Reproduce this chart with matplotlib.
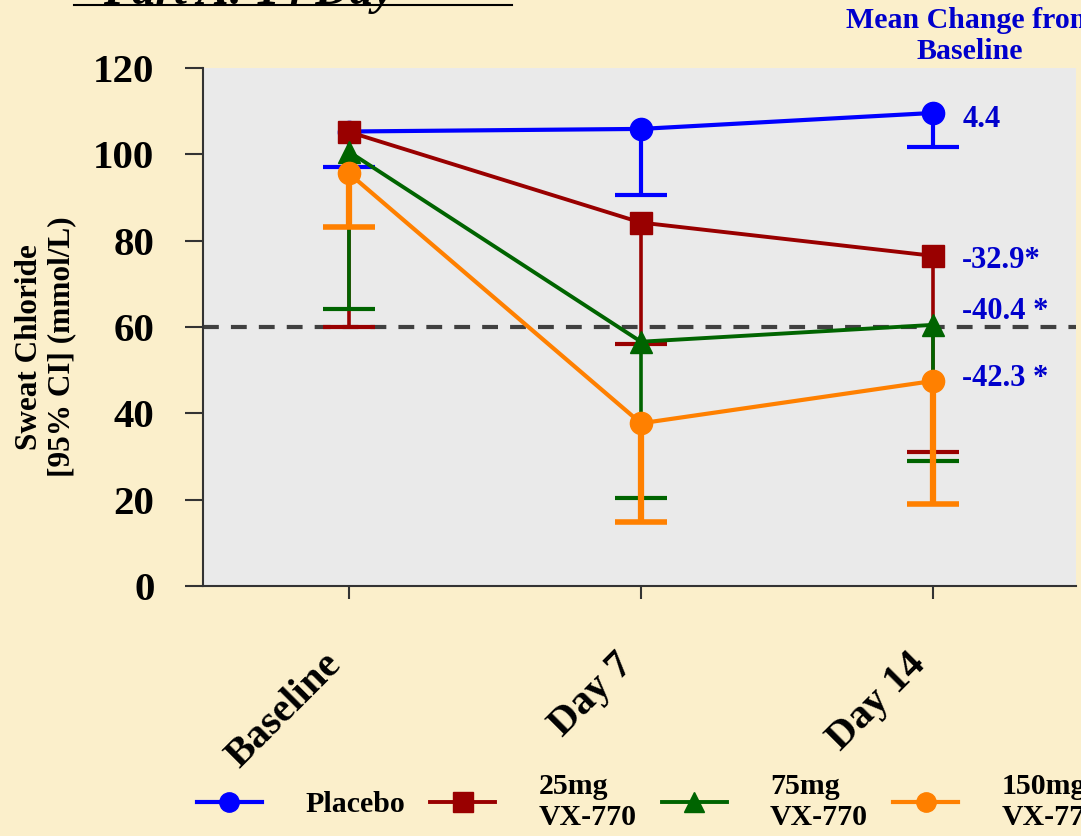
import matplotlib.pyplot as plt
from matplotlib.lines import Line2D
from matplotlib.transforms import ScaledTranslation

# data
visits = ["Baseline", "Day 7", "Day 14"]
x_pos = [1, 2, 3]

groups = ["Placebo", "25mg\nVX-770", "75mg\nVX-770", "150mg\nVX-770"]
means = [
    [105.3, 105.9, 109.6],   # placebo
    [105.2, 84.2, 76.5],     # 25mg
    [100.6, 56.6, 60.5],     # 75mg
    [95.6, 37.7, 47.5],      # 150mg
]
lower_ci = [
    [97.1, 90.7, 101.8],
    [60.1, 56.1, 31.1],
    [64.1, 20.5, 29.0],
    [83.2, 14.9, 19.0],
]
change_labels = ["4.4", "-32.9*", "-40.4 *", "-42.3 *"]
change_y = [108.0, 75.5, 63.5, 48.0]
threshold = 60

colors = ["#0000FF", "#990000", "#006400", "#FF8000"]
markers = ["o", "s", "^", "o"]
line_w = [3.0, 2.8, 2.8, 3.0]
bar_w = [3.0, 2.6, 2.6, 4.5]
cap_w = [3.0, 3.0, 3.0, 4.0]

serif = "Liberation Serif"
txt_blue = "#0000CC"

fig = plt.figure(figsize=(10.81, 8.36), dpi=100)
fig.patch.set_facecolor("#FBEFCB")
ax = fig.add_axes([0.1878, 0.299, 0.8076, 0.6196])
ax.set_facecolor("#EAEAEA")

ax.axhline(threshold, color="#404040", lw=3, linestyle=(0, (3.8, 2.9)), zorder=1)

handles = []
for i in range(len(groups)):
    err_lo = [m - l for m, l in zip(means[i], lower_ci[i])]
    err_hi = [0] * len(means[i])
    cont = ax.errorbar(x_pos, means[i], yerr=[err_lo, err_hi], color=colors[i],
                       marker=markers[i], markersize=16, lw=line_w[i],
                       elinewidth=bar_w[i], capsize=19, capthick=cap_w[i],
                       zorder=3 + i)
    cont[1][1].set_visible(False)   # one-sided bars, no upper cap
    handles.append(cont[0])

for lab, yy in zip(change_labels, change_y):
    ax.text(3.1, yy, lab, color=txt_blue, fontsize=22, fontweight="bold",
            family=serif, ha="left", va="center")

ax.set_xlim(0.5, 3.49)
ax.set_ylim(0, 120)
ax.set_yticks([0, 20, 40, 60, 80, 100, 120])
ax.set_xticks(x_pos)
ax.set_xticklabels(visits, rotation=45, ha="right", va="top")
for lab in ax.get_xticklabels() + ax.get_yticklabels():
    lab.set_fontfamily(serif)
    lab.set_fontweight("bold")
    lab.set_fontsize(29.5)
for lab in ax.get_xticklabels():
    lab.set_transform(lab.get_transform() + ScaledTranslation(-10 / 100, 0, fig.dpi_scale_trans))

ax.tick_params(axis="y", direction="out", length=13, width=1.5, color="#333333", pad=22)
ax.tick_params(axis="x", direction="out", length=9, width=1.5, color="#333333", pad=34)
for side in ["top", "right"]:
    ax.spines[side].set_visible(False)
for side in ["left", "bottom"]:
    ax.spines[side].set_color("#333333")
    ax.spines[side].set_linewidth(1.5)

fig.text(0.042, 0.585, "Sweat Chloride\n[95% CI] (mmol/L)", rotation=90,
         ha="center", va="center", family=serif, fontweight="bold", fontsize=22.5,
         linespacing=1.15)

fig.text(970 / 1081, 0.957, "Mean Change from\nBaseline", color=txt_blue,
         ha="center", va="center", family=serif, fontweight="bold", fontsize=21.5,
         linespacing=1.15)

# title, mostly cut off at the top as in the original slide
fig.text(103 / 1081, 1 - 4 / 836, "Part A: 14 Day", family=serif, fontweight="bold",
         style="italic", fontsize=34, ha="left", va="baseline")
fig.add_artist(Line2D([74 / 1081, 512 / 1081], [1 - 4.5 / 836, 1 - 4.5 / 836],
                      color="black", lw=1.5, transform=fig.transFigure))

fig.legend(handles, groups, loc="center left", bbox_to_anchor=(197 / 1081, 1 - 802 / 836),
           ncol=4, frameon=False, prop={"family": serif, "weight": "bold", "size": 21.5},
           handlelength=2.17, handletextpad=1.45, columnspacing=0.85,
           borderaxespad=0, borderpad=0, markerscale=0.87)

fig.savefig("out.png", dpi=100, facecolor=fig.get_facecolor())
